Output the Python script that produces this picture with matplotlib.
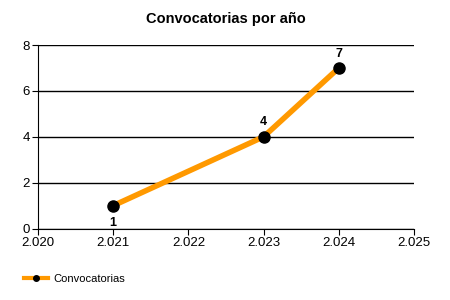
import matplotlib
matplotlib.use("Agg")
import matplotlib.pyplot as plt
from matplotlib.ticker import FuncFormatter

plt.rcParams['font.family'] = ['Liberation Sans', 'DejaVu Sans']

# Data
years = [2021, 2023, 2024]
counts = [1, 4, 7]
label_pos = ['below', 'above', 'above']

fig = plt.figure(figsize=(4.5, 3), dpi=100)
ax = fig.add_axes([0.0844, 0.238, 0.8356, 0.612])

ax.plot(years, counts, color='#ff9900', linewidth=4, marker='o',
        markersize=8, markerfacecolor='black', markeredgecolor='black',
        label='Convocatorias', zorder=3)

for x, y, pos in zip(years, counts, label_pos):
    if pos == 'below':
        ax.annotate(str(y), (x, y), xytext=(0, -8), textcoords='offset points',
                    ha='center', va='top', fontsize=9, fontweight='bold')
    else:
        ax.annotate(str(y), (x, y), xytext=(0, 6), textcoords='offset points',
                    ha='center', va='bottom', fontsize=9, fontweight='bold')

ax.set_xlim(2020, 2025)
ax.set_ylim(0, 8)
ax.set_xticks(range(2020, 2026))
ax.set_yticks(range(0, 9, 2))
ax.xaxis.set_major_formatter(FuncFormatter(lambda v, p: f"{int(v):,}".replace(',', '.')))
ax.yaxis.grid(True, color='black', linewidth=1)
ax.set_axisbelow(True)
for s in ['top', 'right']:
    ax.spines[s].set_visible(False)
ax.tick_params(labelsize=9.5, length=4, color='black', pad=2)

ax.set_title("Convocatorias por año", fontsize=10.5, fontweight='bold', pad=16)

leg = fig.legend(loc='lower left', bbox_to_anchor=(0.03, 0.02), frameon=False,
                 fontsize=8, handlelength=2.2, handletextpad=0.5)
for h in leg.legend_handles:
    h.set_markersize(4)
    h.set_linewidth(3)

fig.savefig("out.png", dpi=100)
